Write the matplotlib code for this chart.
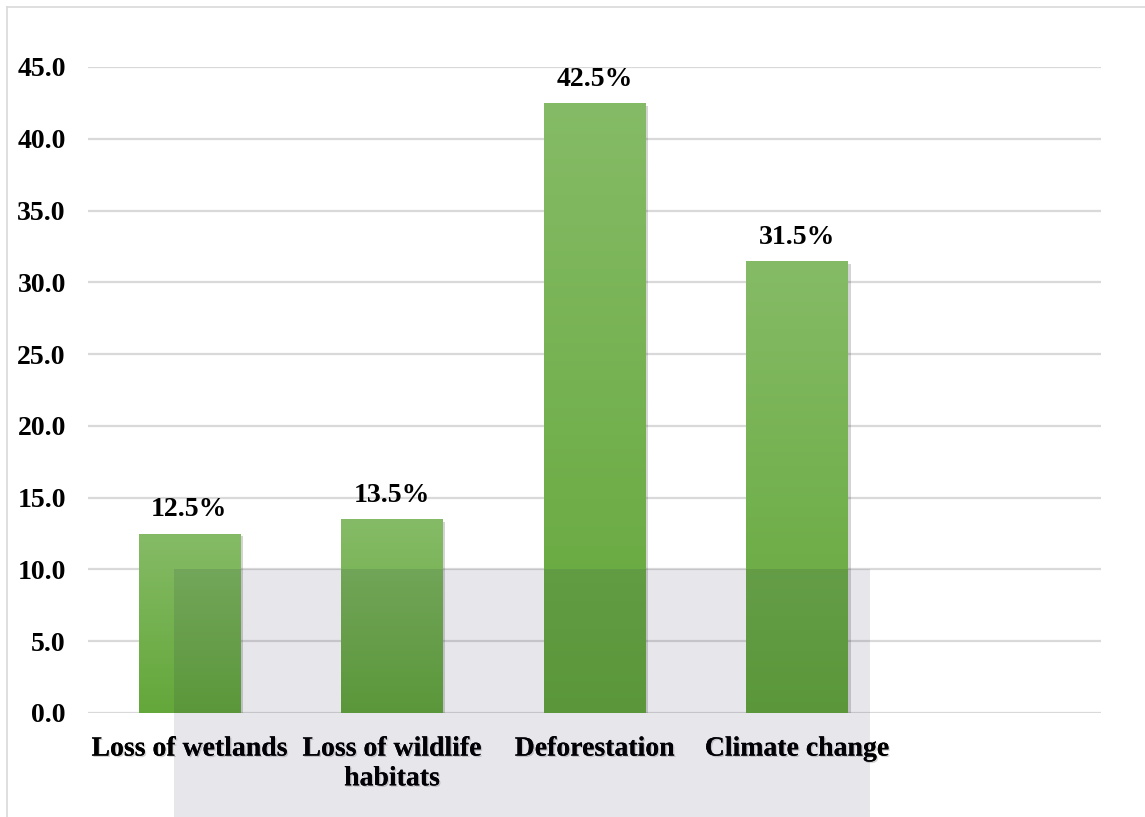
import matplotlib
matplotlib.use("Agg")
import matplotlib.pyplot as plt
import matplotlib.patheffects as pe
from matplotlib.patches import Rectangle
from matplotlib.lines import Line2D
from matplotlib.colors import LinearSegmentedColormap
import numpy as np

# Data
categories = ["Loss of wetlands", "Loss of wildlife\nhabitats", "Deforestation", "Climate change"]
values = [12.5, 13.5, 42.5, 31.5]
yticks = [0, 5, 10, 15, 20, 25, 30, 35, 40, 45]

FONT = "Liberation Serif"
W, H, DPI = 1145, 817, 100

fig = plt.figure(figsize=(W / DPI, H / DPI), dpi=DPI)
fig.patch.set_facecolor("white")

ax = fig.add_axes([88 / W, (H - 713) / H, (1101 - 88) / W, (713 - 67) / H])
ax.set_facecolor("none")

x = np.arange(len(categories))
bars = ax.bar(x, values, width=0.5, color="#74B050", zorder=3,
              path_effects=[pe.withSimplePatchShadow(offset=(2, -2), alpha=0.25,
                                                     shadow_rgbFace="#555555"),
                            pe.Normal()])

# vertical gradient fill inside each bar
grad_cmap = LinearSegmentedColormap.from_list("bargrad", ["#64A73A", "#85BB66"])
grad = np.linspace(0, 1, 256).reshape(-1, 1)
for b in bars:
    x0, w, h = b.get_x(), b.get_width(), b.get_height()
    im = ax.imshow(grad, cmap=grad_cmap, origin="lower", aspect="auto",
                   extent=(x0, x0 + w, 0, h), zorder=4, interpolation="bicubic")
    im.set_clip_path(b)

ax.set_xlim(-0.5, 4.5)
ax.set_ylim(0, 45)

ax.set_yticks(yticks)
ax.set_yticklabels([f"{t:.1f}" for t in yticks], fontfamily=FONT,
                   fontweight="bold", fontsize=20)
ax.set_xticks(x)
ax.set_xticklabels(categories, fontfamily=FONT, fontweight="bold", fontsize=20,
                   linespacing=1.25)
for lbl in ax.get_xticklabels():
    lbl.set_path_effects([pe.withSimplePatchShadow(offset=(1, -1), alpha=0.3,
                                                   shadow_rgbFace="#777777"),
                          pe.Normal()])
ax.tick_params(axis="y", length=0, pad=16)
ax.tick_params(axis="x", length=0, pad=17)

ax.yaxis.grid(True, color="#D9D9D9", linewidth=1.6, zorder=0)
ax.set_axisbelow(True)
for s in ax.spines.values():
    s.set_visible(False)

# value labels above bars
for b, v in zip(bars, values):
    ax.annotate(f"{v:.1f}%", (b.get_x() + b.get_width() / 2, v),
                xytext=(0, 8), textcoords="offset points",
                ha="center", va="bottom", fontfamily=FONT,
                fontweight="bold", fontsize=20, zorder=6)

# outer chart border (top and left edges)
fig.add_artist(Line2D([7 / W, 1.0], [(H - 7) / H, (H - 7) / H],
                      transform=fig.transFigure, color="#D9D9D9", linewidth=1.2))
fig.add_artist(Line2D([7 / W, 7 / W], [0, (H - 7) / H],
                      transform=fig.transFigure, color="#D9D9D9", linewidth=1.2))

# faint translucent panel over lower part of the chart
fig.add_artist(Rectangle((174 / W, 0), (870 - 174) / W, (H - 569) / H,
                         transform=fig.transFigure, facecolor="#101040",
                         edgecolor="none", alpha=0.1, zorder=10))

fig.savefig("out.png", dpi=DPI)
